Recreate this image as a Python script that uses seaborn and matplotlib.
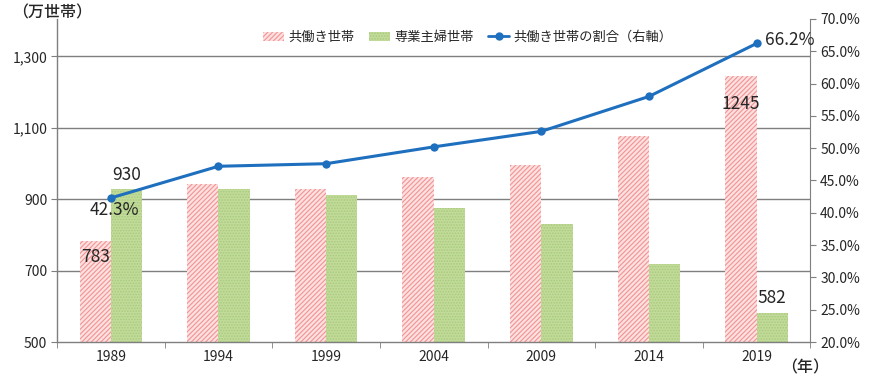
import matplotlib
matplotlib.use("Agg")
import matplotlib.pyplot as plt
import numpy as np
import pandas as pd
import seaborn as sns
from matplotlib.lines import Line2D
from matplotlib.patches import Patch
from matplotlib.ticker import FuncFormatter, FixedLocator

sns.set_style("white")
plt.rcParams["font.family"] = ["Noto Sans CJK JP", "DejaVu Sans"]
plt.rcParams["hatch.linewidth"] = 0.8

years = ["1989", "1994", "1999", "2004", "2009", "2014", "2019"]
dual_income = [783, 943, 929, 961, 995, 1077, 1245]
housewife = [930, 930, 912, 875, 831, 720, 582]
dual_share = [42.3, 47.2, 47.6, 50.2, 52.6, 58.0, 66.2]

S_DUAL = "共働き世帯"
S_HOME = "専業主婦世帯"
S_SHARE = "共働き世帯の割合（右軸）"

df = pd.DataFrame({
    "year": years * 2,
    "count": dual_income + housewife,
    "kind": [S_DUAL] * len(years) + [S_HOME] * len(years),
})

PINK_FACE = "#fde0e0"
PINK_HATCH = "#f29393"
GREEN_FACE = "#c2db9b"
GREEN_HATCH = "#a8cb7a"
BLUE = "#1f6fbf"
GRID = "#7f7f7f"

fig = plt.figure(figsize=(8.7, 3.78), dpi=100)
ax = fig.add_axes([0.0655, 0.095, 0.866, 0.855])

sns.barplot(df, x="year", y="count", hue="kind", order=years,
            hue_order=[S_DUAL, S_HOME], palette=[PINK_FACE, GREEN_FACE],
            width=0.58, saturation=1, legend=False, ax=ax)

for bar in ax.containers[0]:
    bar.set_hatch("///////")
    bar.set_edgecolor(PINK_HATCH)
    bar.set_linewidth(0)
for bar in ax.containers[1]:
    bar.set_hatch("......")
    bar.set_edgecolor(GREEN_HATCH)
    bar.set_linewidth(0)

ax.set_ylim(500, 1405)
ax.yaxis.set_major_locator(FixedLocator([500, 700, 900, 1100, 1300]))
ax.yaxis.set_major_formatter(FuncFormatter(lambda v, p: f"{int(v):,}"))
ax.set_xlim(-0.5, 6.5)
for yv in [700, 900, 1100, 1300]:
    ax.axhline(yv, color=GRID, lw=1.0, zorder=0.5)
ax.set_axisbelow(True)
ax.set_xlabel(None)
ax.set_ylabel(None)
ax.tick_params(axis="y", labelsize=10, length=4, color=GRID, direction="out",
               left=True, pad=3)
ax.tick_params(axis="x", labelsize=10, length=0, pad=6)
ax.set_xticks(np.arange(-0.5, 7, 1), minor=True)
ax.tick_params(axis="x", which="minor", length=4, color=GRID, bottom=True)
for side in ["top", "right"]:
    ax.spines[side].set_visible(False)
for side in ["left", "bottom"]:
    ax.spines[side].set_color(GRID)
    ax.spines[side].set_linewidth(1.0)

ax2 = ax.twinx()
sns.lineplot(x=np.arange(len(years)), y=dual_share, color=BLUE, lw=2.2,
             marker="o", markersize=6, markeredgewidth=0, ax=ax2)
ax2.set_ylim(20, 70)
ax2.yaxis.set_major_locator(FixedLocator(np.arange(20, 71, 5)))
ax2.yaxis.set_major_formatter(FuncFormatter(lambda v, p: f"{v:.1f}%"))
ax2.tick_params(axis="y", labelsize=10, length=4, color=GRID, direction="out",
                right=True, pad=3)
for side in ["top", "left", "bottom"]:
    ax2.spines[side].set_visible(False)
ax2.spines["right"].set_color(GRID)

# data labels
ax.text(0 - 0.145, dual_income[0] - 45, f"{dual_income[0]}", ha="center",
        va="center", fontsize=12.5)
ax.text(0 + 0.145, housewife[0] + 38, f"{housewife[0]}", ha="center",
        va="center", fontsize=12.5)
ax.text(6 - 0.145, dual_income[6] - 78, f"{dual_income[6]}", ha="center",
        va="center", fontsize=12.5)
ax.text(6 + 0.145, housewife[6] + 42, f"{housewife[6]}", ha="center",
        va="center", fontsize=12.5)
ax2.text(0 + 0.03, dual_share[0] - 1.9, f"{dual_share[0]}%", ha="center",
         va="center", fontsize=12.5)
ax2.text(6 + 0.08, dual_share[6] + 0.6, f"{dual_share[6]}%", ha="left",
         va="center", fontsize=12.5)

handles = [
    Patch(facecolor=PINK_FACE, edgecolor=PINK_HATCH, hatch="///////", lw=0),
    Patch(facecolor=GREEN_FACE, edgecolor=GREEN_HATCH, hatch="......", lw=0),
    Line2D([], [], color=BLUE, lw=2, marker="o", markersize=5),
]
ax2.legend(handles, [S_DUAL, S_HOME, S_SHARE], loc="upper center",
           bbox_to_anchor=(0.545, 1.0), ncol=3, frameon=False, fontsize=9.5,
           handlelength=1.6, handleheight=0.7, columnspacing=1.1,
           handletextpad=0.3)

fig.text(0.014, 0.966, "（万世帯）", fontsize=11.5, fontweight="medium",
         ha="left", va="center")
fig.text(0.898, 0.027, "（年）", fontsize=11.5, fontweight="medium",
         ha="left", va="center")

fig.savefig("out.png", dpi=100)
